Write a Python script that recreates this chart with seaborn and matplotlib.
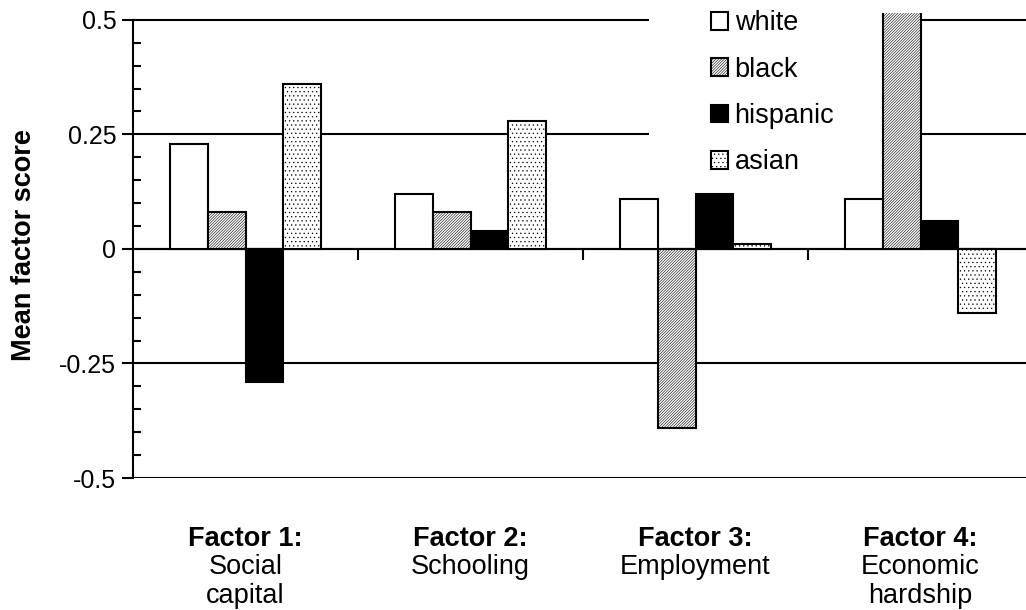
import pandas as pd
import numpy as np
import matplotlib
matplotlib.use("Agg")
import matplotlib.pyplot as plt
import seaborn as sns
from matplotlib.patches import Patch, Rectangle
from matplotlib.ticker import MultipleLocator, AutoMinorLocator
import matplotlib.transforms as mtransforms

# Data
factors = ["Factor 1:", "Factor 2:", "Factor 3:", "Factor 4:"]
descriptions = ["Social\ncapital", "Schooling", "Employment", "Economic\nhardship"]
groups = ["white", "black", "hispanic", "asian"]
white = [0.23, 0.12, 0.11, 0.11]
black = [0.08, 0.08, -0.39, 0.60]
hispanic = [-0.29, 0.04, 0.12, 0.06]
asian = [0.36, 0.28, 0.01, -0.14]

# Styles for each group
faces = {"white": "white", "black": "white", "hispanic": "black", "asian": "white"}
hatches = {"white": "", "black": "////////////", "hispanic": "", "asian": "...."}

# Long table for seaborn
rows = []
for g, vals in zip(groups, [white, black, hispanic, asian]):
    for f, v in zip(factors, vals):
        rows.append({"factor": f, "group": g, "score": v})
df = pd.DataFrame(rows)

sns.set_theme(style="white")
plt.rcParams["font.family"] = ["Liberation Sans", "DejaVu Sans"]
plt.rcParams["font.size"] = 18
plt.rcParams["hatch.linewidth"] = 0.4
plt.rcParams["text.color"] = "black"
plt.rcParams["axes.labelcolor"] = "black"
plt.rcParams["xtick.color"] = "black"
plt.rcParams["ytick.color"] = "black"

fig = plt.figure(figsize=(10.26, 6.10), dpi=100)
ax = fig.add_axes([133 / 1026, 132 / 610, 900 / 1026, 465 / 610])

sns.barplot(data=df, x="factor", y="score", hue="group", order=factors, hue_order=groups,
            palette=[faces[g] for g in groups], width=0.67, saturation=1,
            edgecolor="black", linewidth=1.5, errorbar=None, legend=False, ax=ax, zorder=3)

# Apply hatch patterns per group
for cont, g in zip(ax.containers, groups):
    for bar in cont:
        bar.set_hatch(hatches[g])
        bar.set_facecolor(faces[g])
        bar.set_edgecolor("black")

ax.set_xlim(-0.5, 3.5)
ax.set_ylim(-0.5, 0.515)

# Axes styling
for s in ["top", "right"]:
    ax.spines[s].set_visible(False)
ax.spines["left"].set_bounds(-0.5, 0.5)
ax.spines["left"].set_linewidth(1.5)
ax.spines["left"].set_color("black")
ax.spines["bottom"].set_position(("data", 0))
ax.spines["bottom"].set_linewidth(1.5)
ax.spines["bottom"].set_color("black")

ax.yaxis.set_major_locator(MultipleLocator(0.25))
ax.yaxis.set_minor_locator(AutoMinorLocator(5))
ax.set_yticks([-0.5, -0.25, 0, 0.25, 0.5], labels=["-0.5", "-0.25", "0", "0.25", "0.5"])
ax.tick_params(axis="y", which="major", direction="out", length=8, width=1.5, color="black",
               labelcolor="black", left=True, labelsize=18, pad=4)
ax.tick_params(axis="y", which="minor", direction="in", length=6, width=1.5, color="black", left=True)
ax.yaxis.grid(True, which="major", color="black", linewidth=1.5)
ax.set_axisbelow(True)

ax.set_xticks([0.5, 1.5, 2.5], labels=["", "", ""])
ax.tick_params(axis="x", which="major", direction="out", length=8, width=1.5, color="black", bottom=True)
ax.set_xlabel("")
ax.set_ylabel("Mean factor score", fontsize=19.5, fontweight="bold", labelpad=16, color="black")

# Category labels below the plot
trans = mtransforms.blended_transform_factory(ax.transData, ax.transAxes)
for i, (f, d) in enumerate(zip(factors, descriptions)):
    ax.text(i, -0.103, f, transform=trans, ha="center", va="top", fontsize=19.5,
            fontweight="bold", color="black")
    ax.text(i, -0.163, d, transform=trans, ha="center", va="top", fontsize=19.5,
            linespacing=1.15, color="black")

# White box behind the legend (hides the gridlines, sits under the bars)
ax.add_patch(Rectangle((0.573, 0.69), 0.26, 0.4, transform=ax.transAxes,
                       facecolor="white", edgecolor="none", zorder=1.5, clip_on=False))

handles = [Patch(facecolor=faces[g], edgecolor="black", hatch=hatches[g], linewidth=1.5) for g in groups]
leg = ax.legend(handles, groups, loc="upper left", bbox_to_anchor=(0.693, 0.983),
                bbox_transform=fig.transFigure, frameon=False, fontsize=19.5,
                handlelength=0.62, handleheight=0.62, handletextpad=0.25, labelspacing=0.75,
                borderpad=0, borderaxespad=0, labelcolor="black")
leg.set_zorder(5)

fig.savefig("out.png", dpi=100)
